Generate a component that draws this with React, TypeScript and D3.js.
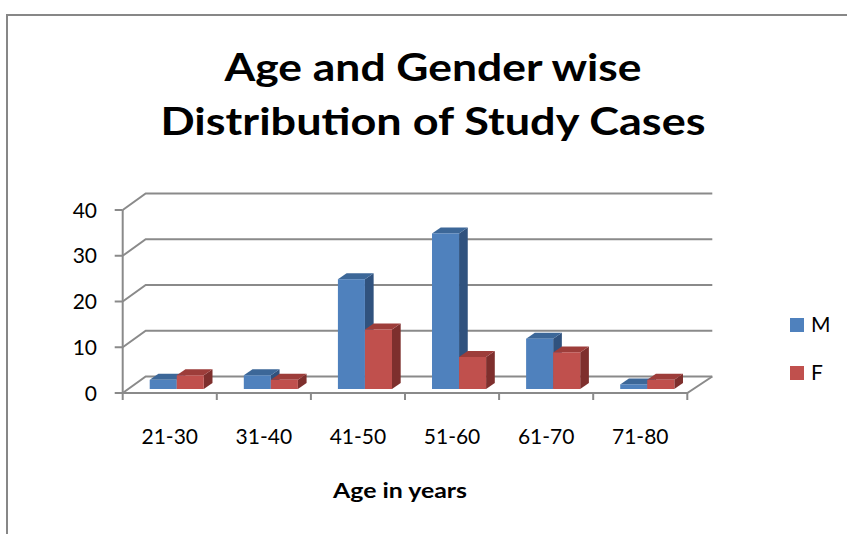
import React from 'react';
import * as d3 from 'd3';

const categories = ['21-30', '31-40', '41-50', '51-60', '61-70', '71-80'];
const seriesNames = ['M', 'F'];
const maleCounts = [2, 3, 24, 34, 11, 1];
const femaleCounts = [3, 2, 13, 7, 8, 2];
const yTicks = [0, 10, 20, 30, 40];

const W = 847;
const H = 534;
const FONT = 'Lato, "Open Sans", sans-serif';
const GRID = '#8a8a8a';

// colours per series: front, top, side
const palette: Record<string, { front: string; top: string; side: string }> = {
  M: { front: '#4f81bd', top: '#3c6798', side: '#30527e' },
  F: { front: '#c0504d', top: '#9d3d3a', side: '#7e2f2d' },
};

// oblique projection of the floor / back wall
const wallDepth = { dx: 23, dy: -16.5 };
const barOffset = { dx: 7, dy: -4 };
const barDepth = { dx: 8.7, dy: -6 };

export default function App() {
  const x = d3.scaleBand().domain(categories).range([122.7, 687.3]).padding(0);
  const xs = d3
    .scaleBand()
    .domain(seriesNames)
    .range([0, x.bandwidth()])
    .paddingInner(0)
    .paddingOuter(0.74);
  const y = d3.scaleLinear().domain([0, 40]).range([393, 210]);

  const x0 = x.range()[0];
  const x1 = x.range()[1];
  const backRight = x1 + wallDepth.dx + 2;

  const values: Record<string, number[]> = { M: maleCounts, F: femaleCounts };

  const bars: JSX.Element[] = [];
  categories.forEach((cat, i) => {
    seriesNames.forEach((s) => {
      const v = values[s][i];
      const w = xs.bandwidth();
      const bx = (x(cat) as number) + (xs(s) as number) + barOffset.dx;
      const yt = y(v) + barOffset.dy;
      const yb = y(0) + barOffset.dy;
      const c = palette[s];
      const top = [
        [bx, yt],
        [bx + w, yt],
        [bx + w + barDepth.dx, yt + barDepth.dy],
        [bx + barDepth.dx, yt + barDepth.dy],
      ];
      const side = [
        [bx + w, yt],
        [bx + w + barDepth.dx, yt + barDepth.dy],
        [bx + w + barDepth.dx, yb + barDepth.dy],
        [bx + w, yb],
      ];
      bars.push(
        <g key={`${cat}-${s}`}>
          <polygon points={side.map((p) => p.join(',')).join(' ')} fill={c.side} />
          <polygon points={top.map((p) => p.join(',')).join(' ')} fill={c.top} />
          <rect x={bx} y={yt} width={w} height={yb - yt} fill={c.front} />
        </g>
      );
    });
  });

  return (
    <svg
      width={W}
      height={H}
      style={{ position: 'absolute', left: 0, top: 0, background: '#fff' }}
    >
      {/* chart area border */}
      <path d={`M7,${H + 2} L7,15 L${W + 2},15`} fill="none" stroke="#878787" strokeWidth={2} />

      {/* title */}
      <g fontFamily={FONT} fontWeight={700} fontSize={38} textAnchor="middle" fill="#000">
        <text x={433} y={81} textLength={417} lengthAdjust="spacingAndGlyphs">
          Age and Gender wise
        </text>
        <text x={433} y={135} textLength={545} lengthAdjust="spacingAndGlyphs">
          Distribution of Study Cases
        </text>
      </g>

      {/* back wall gridlines with left-wall diagonals */}
      {yTicks.map((t) => (
        <path
          key={t}
          d={`M${x0},${y(t)} L${x0 + wallDepth.dx},${y(t) + wallDepth.dy} L${backRight},${y(t) + wallDepth.dy}`}
          fill="none"
          stroke={GRID}
          strokeWidth={2}
        />
      ))}

      {/* floor front edge and right edge */}
      <path
        d={`M${x0},${y(0)} L${x1},${y(0)} L${backRight},${y(0) + wallDepth.dy}`}
        fill="none"
        stroke={GRID}
        strokeWidth={2}
      />

      {bars}

      {/* y axis */}
      <line x1={x0} x2={x0} y1={y(0)} y2={y(40)} stroke={GRID} strokeWidth={2} />
      {yTicks.map((t) => (
        <g key={t}>
          <line x1={x0 - 8} x2={x0} y1={y(t)} y2={y(t)} stroke={GRID} strokeWidth={2} />
          <text
            x={97}
            y={y(t)}
            dy="0.36em"
            textAnchor="end"
            fontFamily={FONT}
            fontSize={21}
            fill="#000"
          >
            {t}
          </text>
        </g>
      ))}

      {/* x axis ticks and labels */}
      {[...categories.map((c) => x(c) as number), x1].map((tx, i) => (
        <line key={i} x1={tx} x2={tx} y1={y(0)} y2={y(0) + 7} stroke={GRID} strokeWidth={2} />
      ))}
      {categories.map((c) => (
        <text
          key={c}
          x={(x(c) as number) + x.bandwidth() / 2}
          y={444}
          textAnchor="middle"
          fontFamily={FONT}
          fontSize={21}
          fill="#000"
        >
          {c}
        </text>
      ))}
      <text
        x={400}
        y={498}
        textAnchor="middle"
        fontFamily={FONT}
        fontWeight={700}
        fontSize={21}
        textLength={134}
        lengthAdjust="spacingAndGlyphs"
        fill="#000"
      >
        Age in years
      </text>

      {/* legend */}
      {seriesNames.map((s, i) => (
        <g key={s} transform={`translate(790,${318 + i * 48})`}>
          <rect width={14} height={14} fill={palette[s].front} />
          <text x={21} y={14} fontFamily={FONT} fontSize={21} fill="#000">
            {s}
          </text>
        </g>
      ))}
    </svg>
  );
}
